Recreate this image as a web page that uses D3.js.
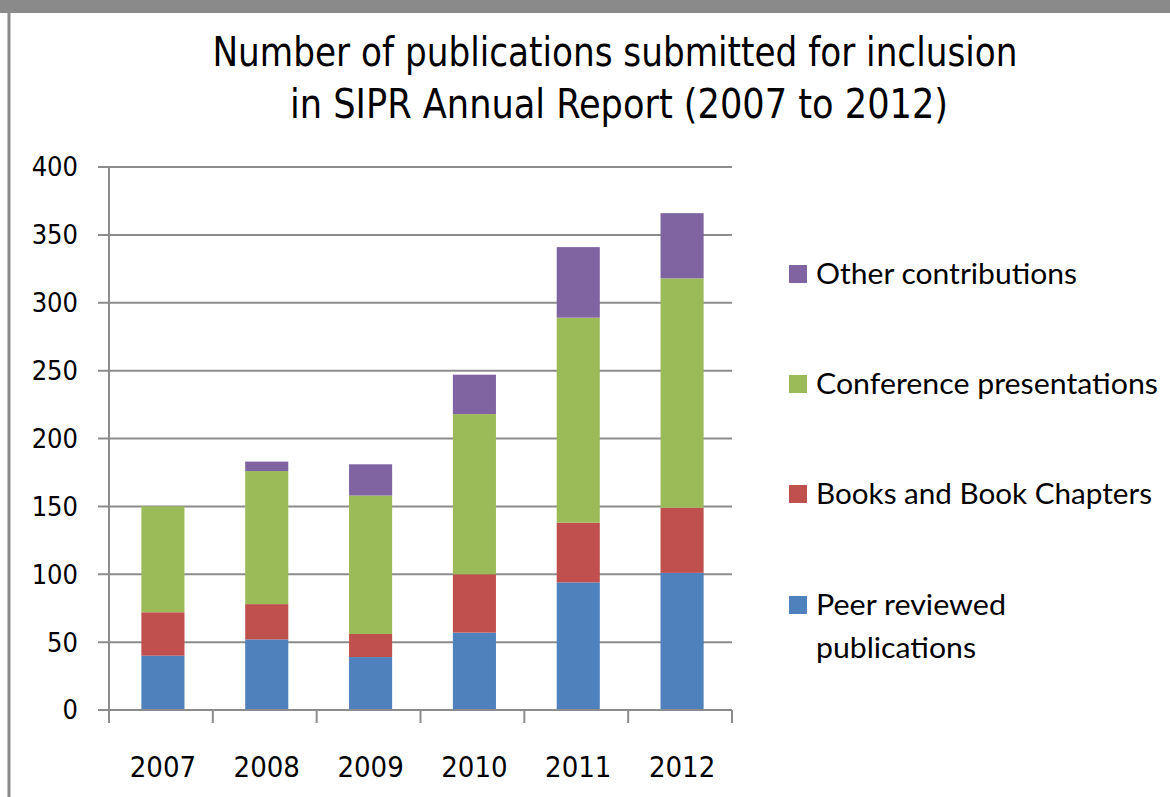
<!DOCTYPE html>
<html>
<head>
<meta charset="utf-8">
<script src="https://cdn.jsdelivr.net/npm/d3@7"></script>
<style>
  body { margin: 0; background: #fff; }
  svg { display: block; }
</style>
</head>
<body>
<div id="chart"></div>
<script>
"use strict";

const years = ["2007", "2008", "2009", "2010", "2011", "2012"];
const peerReviewed = [40, 52, 39, 57, 94, 101];
const booksChapters = [32, 26, 17, 43, 44, 48];
const conferencePresentations = [78, 98, 102, 118, 151, 169];
const otherContributions = [0, 7, 23, 29, 52, 48];
const yTicks = [0, 50, 100, 150, 200, 250, 300, 350, 400];

const seriesNames = ["Peer reviewed publications", "Books and Book Chapters", "Conference presentations", "Other contributions"];
const seriesColors = ["#4F81BD", "#C0504D", "#9BBB59", "#8064A2"];

const rows = years.map(function(y, i) {
    return {
        year: y,
        "Peer reviewed publications": peerReviewed[i],
        "Books and Book Chapters": booksChapters[i],
        "Conference presentations": conferencePresentations[i],
        "Other contributions": otherContributions[i]
    };
});

const width = 1170, height = 797;
const margin = {top: 167, right: 438, bottom: 87, left: 109};

const svg = d3.select("#chart")
    .append("svg")
    .attr("width", width)
    .attr("height", height);

// frame
svg.append("rect")
    .attr("x", 0).attr("y", 0)
    .attr("width", width).attr("height", 13)
    .attr("fill", "#8a8a8a");
svg.append("line")
    .attr("x1", 9).attr("x2", 9)
    .attr("y1", 13).attr("y2", height)
    .attr("stroke", "#8a8a8a")
    .attr("stroke-width", 3);

const narrowFont = "'Liberation Sans Narrow', 'DejaVu Sans Condensed', 'Liberation Sans', sans-serif";

// title
const title = svg.append("text")
    .attr("text-anchor", "middle")
    .attr("font-family", narrowFont)
    .attr("font-size", 41)
    .attr("fill", "#000");
title.append("tspan").attr("x", 615).attr("y", 66)
    .attr("textLength", 805).attr("lengthAdjust", "spacingAndGlyphs")
    .text("Number of publications submitted for inclusion");
title.append("tspan").attr("x", 619).attr("y", 118)
    .attr("textLength", 658).attr("lengthAdjust", "spacingAndGlyphs")
    .text("in SIPR Annual Report (2007 to 2012)");

const plotW = width - margin.left - margin.right;
const plotH = height - margin.top - margin.bottom;

const g = svg.append("g")
    .attr("transform", "translate(" + margin.left + "," + margin.top + ")");

const x = d3.scaleBand()
    .domain(years)
    .range([0, plotW])
    .paddingInner(0.585)
    .paddingOuter(0.2925);

const y = d3.scaleLinear()
    .domain([0, 400])
    .range([plotH, 0]);

// gridlines
g.append("g")
    .selectAll("line")
    .data(yTicks)
    .join("line")
    .attr("x1", -11)
    .attr("x2", plotW)
    .attr("y1", function(d) { return y(d); })
    .attr("y2", function(d) { return y(d); })
    .attr("stroke", "#8c8c8c")
    .attr("stroke-width", 2);

// stacked bars
const stack = d3.stack().keys(seriesNames);
const stacked = stack(rows);

g.append("g")
    .selectAll("g")
    .data(stacked)
    .join("g")
    .attr("fill", function(d, i) { return seriesColors[i]; })
    .selectAll("rect")
    .data(function(d) { return d; })
    .join("rect")
    .attr("x", function(d) { return x(d.data.year) + 2; })
    .attr("width", x.bandwidth())
    .attr("y", function(d) { return y(d[1]); })
    .attr("height", function(d) { return y(d[0]) - y(d[1]); });

// y axis line
g.append("line")
    .attr("x1", 0).attr("x2", 0)
    .attr("y1", 0).attr("y2", plotH)
    .attr("stroke", "#8c8c8c")
    .attr("stroke-width", 2);

// x axis with category ticks between bars
const xAxis = g.append("g").attr("transform", "translate(0," + plotH + ")");
xAxis.append("line")
    .attr("x1", 0).attr("x2", plotW)
    .attr("stroke", "#8c8c8c")
    .attr("stroke-width", 2);
const step = x.step();
xAxis.selectAll("line.tick")
    .data(d3.range(years.length + 1))
    .join("line")
    .attr("class", "tick")
    .attr("x1", function(i) { return i * step; })
    .attr("x2", function(i) { return i * step; })
    .attr("y1", 0).attr("y2", 13)
    .attr("stroke", "#8c8c8c")
    .attr("stroke-width", 2);

xAxis.selectAll("text")
    .data(years)
    .join("text")
    .attr("x", function(d) { return x(d) + x.bandwidth() / 2 + 2; })
    .attr("y", 67)
    .attr("text-anchor", "middle")
    .attr("font-family", narrowFont)
    .attr("font-size", 29)
    .attr("fill", "#000")
    .text(function(d) { return d; });

// y tick labels
g.append("g")
    .selectAll("text")
    .data(yTicks)
    .join("text")
    .attr("x", -31)
    .attr("y", function(d) { return y(d); })
    .attr("dy", "0.35em")
    .attr("text-anchor", "end")
    .attr("font-family", narrowFont)
    .attr("font-size", 27)
    .attr("fill", "#000")
    .text(function(d) { return d; });

// legend (reverse order, top to bottom)
const legendItems = [
    {color: seriesColors[3], lines: [["Other contributions", 261]], y: 274},
    {color: seriesColors[2], lines: [["Conference presentations", 342]], y: 384},
    {color: seriesColors[1], lines: [["Books and Book Chapters", 336]], y: 494},
    {color: seriesColors[0], lines: [["Peer reviewed", 190], ["publications", 160]], y: 605}
];

const legend = svg.append("g").attr("class", "legend");

legendItems.forEach(function(item) {
    legend.append("rect")
        .attr("x", 789)
        .attr("y", item.y - 9)
        .attr("width", 18)
        .attr("height", 18)
        .attr("fill", item.color);
    const t = legend.append("text")
        .attr("font-family", "Lato, 'Open Sans', sans-serif")
        .attr("font-size", 29)
        .attr("fill", "#000");
    item.lines.forEach(function(line, j) {
        t.append("tspan")
            .attr("x", 816)
            .attr("y", item.y + 10 + j * 43)
            .attr("textLength", line[1])
            .attr("lengthAdjust", "spacingAndGlyphs")
            .text(line[0]);
    });
});
</script>
</body>
</html>
